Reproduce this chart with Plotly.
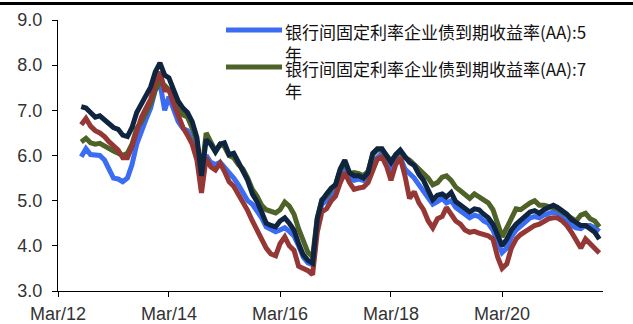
import pandas as pd
import plotly.graph_objects as go

# Monthly observations, Aug 2012 - Dec 2021
dates = pd.date_range("2012-08-01", "2021-12-01", freq="MS")

aa_5y = [
    5.97, 6.15, 6.02, 6.00, 6.00, 5.90, 5.68, 5.50, 5.48, 5.42, 5.50, 5.80,
    6.25, 6.55, 6.80, 7.05, 7.45, 7.60, 7.00, 7.30, 7.05, 6.75, 6.60, 6.55,
    6.30, 6.00, 5.35, 6.00, 5.85, 5.80, 5.85, 5.75, 5.60, 5.50, 5.35, 5.15,
    5.00, 4.92, 4.78, 4.62, 4.42, 4.35, 4.31, 4.35, 4.40, 4.32, 4.22, 4.00,
    3.75, 3.62, 3.58, 4.55, 4.92, 5.00, 5.10, 5.20, 5.55, 5.75, 5.50, 5.45,
    5.48, 5.45, 5.55, 5.85, 5.95, 6.05, 5.90, 5.70, 5.85, 5.95, 5.70, 5.60,
    5.50, 5.35, 5.20, 5.05, 4.92, 4.98, 5.05, 4.95, 5.00, 4.85, 4.78, 4.70,
    4.62, 4.68, 4.65, 4.55, 4.50, 4.35, 4.05, 3.85, 3.95, 4.20, 4.35, 4.45,
    4.55, 4.62, 4.65, 4.62, 4.68, 4.72, 4.75, 4.72, 4.65, 4.55, 4.45, 4.40,
    4.38, 4.45, 4.45, 4.40, 4.32,
]

aa_7y = [
    6.30, 6.38, 6.28, 6.25, 6.27, 6.20, 6.15, 6.10, 6.05, 6.00, 6.05, 6.25,
    6.60, 6.75, 6.95, 7.15, 7.45, 7.62, 7.55, 7.45, 7.25, 7.00, 6.90, 6.85,
    6.60, 6.30, 5.60, 6.50, 6.30, 6.10, 6.25, 6.20, 6.00, 5.95, 5.80, 5.70,
    5.50, 5.25, 5.10, 4.90, 4.80, 4.75, 4.73, 4.80, 4.97, 4.88, 4.70, 4.38,
    4.10, 3.85, 3.76, 4.62, 5.02, 5.10, 5.25, 5.35, 5.68, 5.85, 5.60, 5.62,
    5.60, 5.55, 5.65, 6.02, 6.12, 6.12, 6.00, 5.88, 6.00, 6.10, 5.95, 5.90,
    5.80, 5.70, 5.62, 5.50, 5.35, 5.40, 5.52, 5.55, 5.45, 5.30, 5.22, 5.12,
    5.05, 5.15, 5.08, 5.02, 4.95, 4.80, 4.50, 4.20, 4.40, 4.62, 4.82, 4.80,
    4.88, 4.95, 5.00, 4.90, 4.90, 4.88, 4.85, 4.82, 4.75, 4.68, 4.62, 4.55,
    4.68, 4.72, 4.60, 4.55, 4.42,
]

series_red = [
    6.68, 6.82, 6.65, 6.55, 6.50, 6.42, 6.30, 6.20, 6.12, 5.95, 5.95, 6.20,
    6.55, 6.85, 7.05, 7.25, 7.60, 7.85, 7.45, 7.45, 7.15, 6.85, 6.62, 6.45,
    6.25, 5.90, 5.17, 5.95, 5.75, 5.68, 5.83, 5.65, 5.42, 5.32, 5.15, 5.00,
    4.78, 4.55, 4.35, 4.10, 3.95, 3.82, 3.78, 4.05, 4.20, 4.00, 3.90, 3.55,
    3.50, 3.45, 3.36, 4.30, 4.75, 4.82, 5.00, 5.10, 5.40, 5.62, 5.40, 5.25,
    5.28, 5.30, 5.40, 5.68, 5.92, 5.97, 5.75, 5.45, 5.80, 5.95, 5.55, 5.05,
    5.20, 4.95, 4.80, 4.55, 4.40, 4.60, 4.65, 4.85, 4.72, 4.55, 4.48, 4.35,
    4.30, 4.32, 4.28, 4.25, 4.22, 4.15, 3.75, 3.50, 3.60, 3.95, 4.15, 4.25,
    4.32, 4.40, 4.45, 4.48, 4.55, 4.60, 4.62, 4.62, 4.55, 4.45, 4.30, 4.10,
    3.95, 4.15, 4.05, 3.95, 3.84,
]

series_navy = [
    7.08, 7.05, 6.95, 6.85, 6.88, 6.78, 6.68, 6.62, 6.58, 6.45, 6.42, 6.62,
    6.95, 7.15, 7.35, 7.52, 7.85, 8.05, 7.78, 7.72, 7.45, 7.20, 7.05, 6.95,
    6.75, 6.40, 5.55, 6.35, 6.25, 6.08, 6.25, 6.28, 6.02, 6.05, 5.85, 5.65,
    5.45, 5.15, 4.98, 4.75, 4.50, 4.45, 4.42, 4.55, 4.62, 4.50, 4.35, 4.05,
    3.80, 3.68, 3.62, 4.60, 5.00, 5.15, 5.28, 5.35, 5.70, 5.90, 5.62, 5.55,
    5.55, 5.50, 5.62, 6.05, 6.15, 6.15, 6.00, 5.85, 6.02, 6.12, 5.98, 5.85,
    5.78, 5.58, 5.45, 5.25, 5.02, 5.12, 5.15, 5.08, 5.18, 4.98, 4.90, 4.82,
    4.75, 4.82, 4.80, 4.70, 4.62, 4.48, 4.25, 4.00, 4.15, 4.35, 4.48, 4.58,
    4.65, 4.75, 4.78, 4.72, 4.80, 4.85, 4.90, 4.85, 4.78, 4.70, 4.58, 4.50,
    4.45, 4.45, 4.38, 4.30, 4.15,
]

tick_dates = ["2012-03-01", "2014-03-01", "2016-03-01", "2018-03-01", "2020-03-01"]
tick_text = ["Mar/12", "Mar/14", "Mar/16", "Mar/18", "Mar/20"]

legend_names = [
    "银行间固定利率企业债到期收益率(AA):5<br>年",
    "银行间固定利率企业债到期收益率(AA):7<br>年",
]

BLUE = "#3a6cf4"
GREEN = "#4f6228"
RED = "#953735"
NAVY = "#0f243e"

W, H = 633, 324
ML, MR, MT, MB = 58, 30, 20, 33
PW, PH = W - ML - MR, H - MT - MB


def px(x):
    return (x - ML) / PW


def py(y):
    return (H - MB - y) / PH


fig = go.Figure()
for vals, col in [(aa_5y, BLUE), (aa_7y, GREEN), (series_red, RED), (series_navy, NAVY)]:
    fig.add_trace(go.Scatter(
        x=dates, y=vals, mode="lines",
        line=dict(color=col, width=5),
        showlegend=False, hoverinfo="skip",
    ))

shapes = [
    # rule across the top of the panel
    dict(type="line", xref="paper", yref="paper",
         x0=px(0), x1=px(W), y0=py(3.5), y1=py(3.5),
         line=dict(color="black", width=3)),
    # legend swatches
    dict(type="line", xref="paper", yref="paper",
         x0=px(226), x1=px(282), y0=py(30), y1=py(30),
         line=dict(color=BLUE, width=5)),
    dict(type="line", xref="paper", yref="paper",
         x0=px(226), x1=px(282), y0=py(67), y1=py(67),
         line=dict(color=GREEN, width=5)),
]

annotations = [
    dict(xref="paper", yref="paper", x=px(283), y=py(17), xanchor="left", yanchor="top",
         text=legend_names[0], showarrow=False, align="left",
         font=dict(family="Noto Sans CJK SC", size=17, color="#111")),
    dict(xref="paper", yref="paper", x=px(283), y=py(54), xanchor="left", yanchor="top",
         text=legend_names[1], showarrow=False, align="left",
         font=dict(family="Noto Sans CJK SC", size=17, color="#111")),
]

axis_font = dict(family="Liberation Sans, Arial, sans-serif", size=18, color="#333333")

fig.update_layout(
    width=W, height=H,
    margin=dict(l=ML, r=MR, t=MT, b=MB, pad=0),
    paper_bgcolor="white", plot_bgcolor="white",
    shapes=shapes, annotations=annotations,
    showlegend=False,
    xaxis=dict(
        range=["2012-03-01", "2021-12-25"],
        tickvals=tick_dates, ticktext=tick_text,
        showgrid=False, zeroline=False, automargin=False,
        showline=True, linecolor="black", linewidth=1,
        ticks="outside", ticklen=5, tickcolor="black",
        ticklabelstandoff=1,
        tickfont=axis_font,
    ),
    yaxis=dict(
        range=[3, 9], dtick=1, tick0=3, tickformat=".1f",
        showgrid=False, zeroline=False, automargin=False,
        showline=True, linecolor="black", linewidth=1,
        ticks="outside", ticklen=5, tickcolor="black",
        ticklabelstandoff=6,
        tickfont=axis_font,
    ),
)

fig.write_html("out.html")
